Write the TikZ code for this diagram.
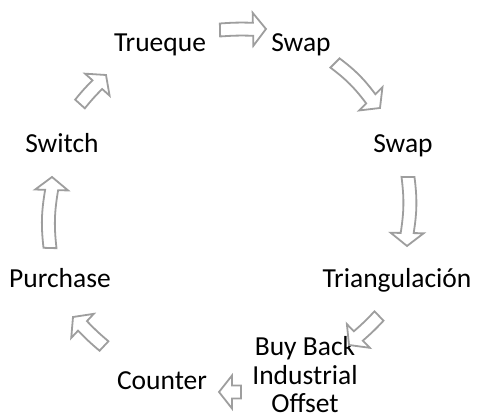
\documentclass[tikz,border=0pt]{standalone}
\usepackage{fontspec}
\setmainfont{Carlito}
\usetikzlibrary{calc}
\definecolor{arrowgray}{RGB}{158,158,158}

% block arrow from tail coordinate #2 to tip coordinate #3, body edges bent by #1 degrees
\newcommand\blockarrow[3]{%
  \coordinate (#2n) at ($(#3)!13pt!(#2)$);
  \draw[flow]
    ($(#2)!6.5pt!90:(#3)$) to[bend left=#1] ($(#2n)!6.5pt!90:(#3)$)
    -- ($(#2n)!16.5pt!90:(#3)$) -- (#3) -- ($(#2n)!16.5pt!-90:(#3)$)
    -- ($(#2n)!6.5pt!-90:(#3)$) to[bend right=#1] ($(#2)!6.5pt!-90:(#3)$) -- cycle;}

\begin{document}
\begin{tikzpicture}[x=1pt,y=-1pt,
  lbl/.style={anchor=base, inner sep=0pt, font=\fontsize{27.5}{28.5}\selectfont, align=center},
  flow/.style={draw=arrowgray, fill=white, line width=1.8pt, line join=miter}]
\useasboundingbox (0,0) rectangle (477,419);

% labels around the cycle
\node[lbl] (trueque) at (160,52) {Trueque};
\node[lbl] (swapA)   at (301,52) {Swap};
\node[lbl] (swapB)   at (403,153) {Swap};
\node[lbl] (triang)  at (397,288) {Triangulación};
% base anchor of a multi-line node sits on its last line
\node[lbl] (buyback) at (305,413) {Buy Back\\Industrial\\Offset};
\node[lbl] (counter) at (162,390) {Counter};
\node[lbl] (purch)   at (60,288) {Purchase};
\node[lbl] (switch)  at (62,153) {Switch};

% arrow end points (tail t, tip h)
\coordinate (t1) at (220,30);  \coordinate (h1) at (266,29);
\coordinate (t2) at (335,63);  \coordinate (h2) at (380,108);
\coordinate (t3) at (408,177); \coordinate (h3) at (407,246);
\coordinate (t4) at (379,316); \coordinate (h4) at (349,345);
\coordinate (t5) at (241,392); \coordinate (h5) at (219,392);
\coordinate (t6) at (104,346); \coordinate (h6) at (73,317);
\coordinate (t7) at (50,248);  \coordinate (h7) at (52,177);
\coordinate (t8) at (80,104);  \coordinate (h8) at (106,75);

\blockarrow{3}{t1}{h1}
\blockarrow{8}{t2}{h2}
\blockarrow{8}{t3}{h3}
\blockarrow{3}{t4}{h4}
\blockarrow{0}{t5}{h5}
\blockarrow{3}{t6}{h6}
\blockarrow{8}{t7}{h7}
\blockarrow{3}{t8}{h8}
\end{tikzpicture}
\end{document}
